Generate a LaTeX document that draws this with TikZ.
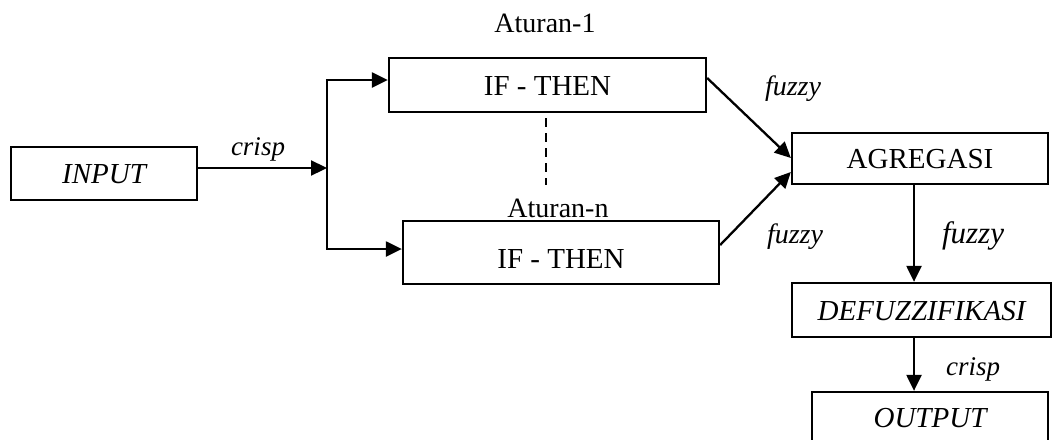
\documentclass[tikz,border=0pt]{standalone}
\usepackage{fontspec}
\setmainfont{Liberation Serif}
\usetikzlibrary{arrows.meta,calc}
\begin{document}
\begin{tikzpicture}[x=1pt,y=-1pt,
  box/.style={draw,line width=2.3pt,inner sep=0pt,font=\fontsize{29}{34}\selectfont,text height=20pt,text depth=0pt},
  lbl/.style={anchor=base,inner sep=0pt,font=\fontsize{28}{32}\selectfont},
  ilbl/.style={anchor=base,inner sep=0pt,font=\fontsize{27}{32}\selectfont\itshape},
  arr/.style={line width=2.3pt,-{Triangle[length=16pt,width=15pt]}},
  ln/.style={line width=2.3pt}]
\useasboundingbox (0,0) rectangle (1054,439);
\clip (0,0) rectangle (1054,439);
% boxes
\node[box,minimum width=186pt,minimum height=53pt] (in) at (104,173.5) {\itshape INPUT};
\node[box,minimum width=317pt,minimum height=54pt] (if1) at (547.5,85) {IF - THEN};
\node[box,minimum width=316pt,minimum height=63pt,text height=31pt] (if2) at (561,252.5) {IF - THEN};
\node[box,minimum width=256pt,minimum height=51pt] (agr) at (920,158.5) {AGREGASI};
\node[box,minimum width=259pt,minimum height=54pt] (def) at (921.5,310) {\itshape DEFUZZIFIKASI};
\node[box,minimum width=236pt,minimum height=58pt,text height=12pt] (out) at (930,421) {\itshape OUTPUT};
% labels
\node[lbl] (a1) at (545,32) {Aturan-1};
\node[lbl] (an) at (558,217) {Aturan-n};
\node[ilbl] (c1) at (258,155) {crisp};
\node[ilbl,font=\fontsize{28}{32}\selectfont\itshape] (f1) at (793,95) {fuzzy};
\node[ilbl,font=\fontsize{28}{32}\selectfont\itshape] (f2) at (795,243) {fuzzy};
\node[ilbl,font=\fontsize{31}{34}\selectfont\itshape] (f3) at (973,243) {fuzzy};
\node[ilbl] (c2) at (973,375) {crisp};
% junction
\coordinate (j) at (327,168);
\coordinate (jt) at (327,80);
\coordinate (jb) at (327,249);
\draw[arr] (in.east |- j) -- (j);
\draw[ln] (jt) -- (jb);
\draw[arr] ([xshift=-1.1pt]jt) -- (if1.west |- jt);
\draw[arr] ([xshift=-1.1pt]jb) -- (if2.west |- jb);
% dashed
\coordinate (d1) at (546,118);
\coordinate (d2) at (546,185);
\draw[ln,dash pattern=on 9pt off 6pt] (d1) -- (d2);
% to agregasi
\draw[arr] ([yshift=7pt]if1.east) -- ([yshift=0.5pt]agr.west);
\draw[arr] ([yshift=7.5pt]if2.east) -- ([yshift=-13.5pt]agr.west);
% down
\draw[arr] ([xshift=-6pt]agr.south) -- ([xshift=-6pt]agr.south |- def.north);
\draw[arr] ([xshift=-7.5pt]def.south) -- ([xshift=-7.5pt]def.south |- out.north);
\end{tikzpicture}
\end{document}
